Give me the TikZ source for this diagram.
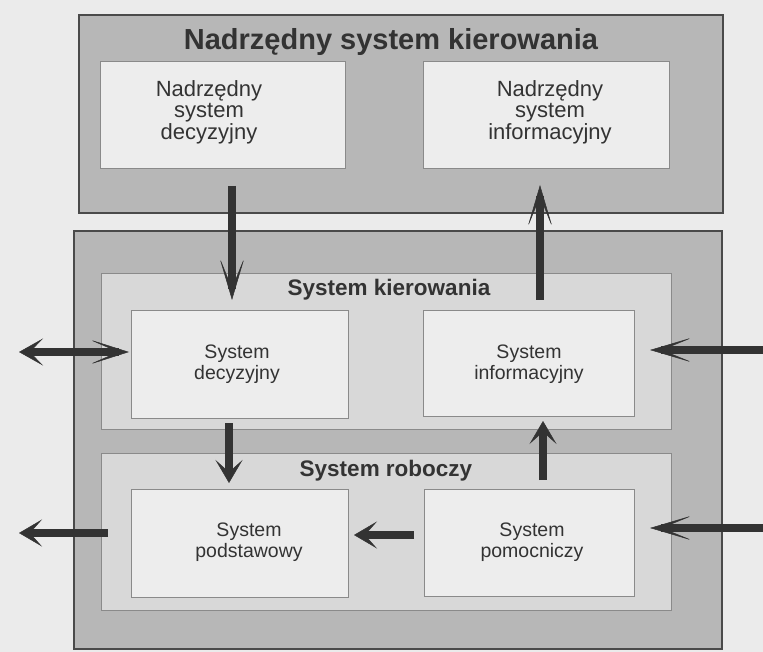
\documentclass[tikz,border=0pt]{standalone}
\usepackage{fontspec}
\setmainfont{Liberation Sans}
\usetikzlibrary{arrows.meta}
\definecolor{bgcol}{HTML}{EBEBEB}
\definecolor{outerfill}{HTML}{B7B7B7}
\definecolor{midfill}{HTML}{D8D8D8}
\definecolor{innerfill}{HTML}{EDEDED}
\definecolor{edgecol}{HTML}{4A4A4A}
\definecolor{thinedge}{HTML}{8A8A8A}
\definecolor{inkcol}{HTML}{333333}
\begin{document}
\begin{tikzpicture}[x=1pt,y=-1pt,
  outerbox/.style={draw=edgecol, line width=2pt, fill=outerfill, anchor=north west, inner sep=0pt},
  midbox/.style={draw=thinedge, line width=0.9pt, fill=midfill, anchor=north west, inner sep=0pt},
  innerbox/.style={draw=thinedge, line width=0.9pt, fill=innerfill, anchor=north west, inner sep=0pt},
  bigtitle/.style={text=inkcol, font=\fontsize{29}{32}\selectfont\bfseries},
  midtitle/.style={text=inkcol, font=\fontsize{22.5}{26}\selectfont\bfseries},
  toptext/.style={text=inkcol, align=center, font=\fontsize{22}{21.5}\selectfont},
  lowtext/.style={text=inkcol, align=center, font=\fontsize{19.5}{21}\selectfont},
  flow/.style={draw=inkcol, line width=8pt},
  longhead/.style={-{Stealth[length=44pt,width=26pt,inset=32pt,line width=0.5pt]}},
  shorthead/.style={-{Stealth[length=23pt,width=27pt,inset=12pt,line width=0.5pt]}}
]
\useasboundingbox (0,0) rectangle (763,652);
\fill[bgcol] (0,0) rectangle (763,652);

% upper level
\node[outerbox, minimum width=644, minimum height=198] (top) at (78,14) {};
\node[bigtitle] (topT) at (391,42) {Nadrzędny system kierowania};
\node[innerbox, minimum width=245, minimum height=107] (nsd) at (100,61) {};
\node[innerbox, minimum width=246, minimum height=107] (nsi) at (423,61) {};
\node[toptext] (nsdT) at (209,112) {Nadrzędny\\system\\decyzyjny};
\node[toptext] (nsiT) at (550,112) {Nadrzędny\\system\\informacyjny};

% lower level
\node[outerbox, minimum width=648, minimum height=418] (low) at (73,230) {};
\node[midbox, minimum width=570, minimum height=156] (kier) at (101,273) {};
\node[midbox, minimum width=570, minimum height=157] (rob) at (101,453) {};
\node[midtitle] (kierT) at (389,290) {System kierowania};
\node[midtitle] (robT) at (386,471) {System roboczy};
\node[innerbox, minimum width=217, minimum height=108] (dec) at (131,310) {};
\node[innerbox, minimum width=211, minimum height=106] (inf) at (423,310) {};
\node[innerbox, minimum width=217, minimum height=108] (pod) at (131,489) {};
\node[innerbox, minimum width=210, minimum height=107] (pom) at (424,489) {};
\node[lowtext] (decT) at (237,364) {System\\decyzyjny};
\node[lowtext] (infT) at (529,364) {System\\informacyjny};
\node[lowtext] (podT) at (249,542) {System\\podstawowy};
\node[lowtext] (pomT) at (532,542) {System\\pomocniczy};

% connector end points
\coordinate (a1s) at (232,186); \coordinate (a1e) at (232,300);
\coordinate (a2s) at (540,300); \coordinate (a2e) at (540,185);
\coordinate (a3s) at (19,352);  \coordinate (a3e) at (129,352);
\coordinate (a4s) at (763,350); \coordinate (a4e) at (650,350);
\coordinate (a5s) at (229,423); \coordinate (a5e) at (229,483);
\coordinate (a6s) at (543,480); \coordinate (a6e) at (543,421);
\coordinate (a7s) at (414,535); \coordinate (a7e) at (354,535);
\coordinate (a8s) at (108,533); \coordinate (a8e) at (19,533);
\coordinate (a9s) at (763,528); \coordinate (a9e) at (650,528);

\draw[flow, longhead] (a1s) -- (a1e);
\draw[flow, longhead] (a2s) -- (a2e);
\draw[flow, {Stealth[length=24pt,width=27pt,inset=13pt,line width=0.5pt]}-{Stealth[length=41pt,width=26pt,inset=30pt,line width=0.5pt]}] (a3s) -- (a3e);
\draw[flow, longhead] (a4s) -- (a4e);
\draw[flow, shorthead] (a5s) -- (a5e);
\draw[flow, shorthead] (a6s) -- (a6e);
\draw[flow, shorthead] (a7s) -- (a7e);
\draw[flow, shorthead] (a8s) -- (a8e);
\draw[flow, longhead] (a9s) -- (a9e);
\end{tikzpicture}
\end{document}
